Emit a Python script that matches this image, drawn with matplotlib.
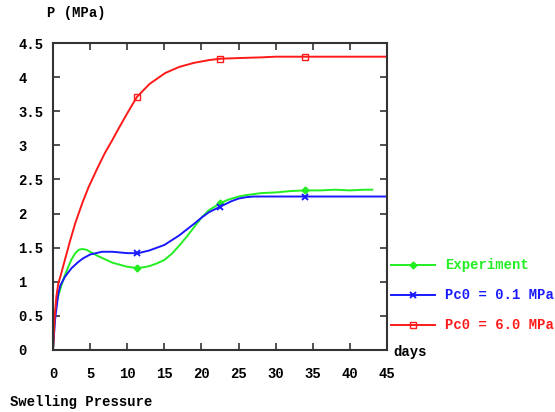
import numpy as np
import matplotlib.pyplot as plt

plt.rcParams['font.family'] = ['Liberation Mono', 'DejaVu Sans Mono']
plt.rcParams['font.weight'] = 'bold'

# curves (days, MPa)
exp_days = [0, 0.27, 0.6, 0.94, 1.5, 2.06, 2.5, 3.0, 3.5, 3.9, 4.5, 5.0, 6.0, 6.6, 7.0, 8.0, 9.0, 10.0, 11.5,
            13.0, 14.0, 15.0, 16.0, 17.0, 18.0, 19.0, 20.0, 21.0, 22.5, 23.5, 25.0, 26.0, 28.0,
            30.0, 32.0, 34.0, 36.0, 38.0, 40.0, 42.0, 43.0]
exp_p = [0, 0.54, 0.75, 0.88, 1.07, 1.22, 1.33, 1.42, 1.47, 1.48, 1.47, 1.44, 1.38, 1.35, 1.33, 1.28, 1.25, 1.22, 1.2,
         1.23, 1.27, 1.32, 1.41, 1.53, 1.66, 1.8, 1.94, 2.05, 2.15, 2.2, 2.25, 2.27, 2.3,
         2.31, 2.33, 2.34, 2.34, 2.35, 2.34, 2.35, 2.35]

pc01_days = [0, 0.27, 0.72, 1.0, 1.6, 2.0, 2.5, 3.4, 4.0, 5.0, 6.6, 8.0, 9.0, 10.0, 11.5,
             13.0, 15.0, 17.0, 19.0, 20.0, 21.0, 22.5, 24.0, 25.0, 26.0, 27.0, 30.0, 34.0, 40.0, 45.0]
pc01_p = [0, 0.44, 0.83, 0.95, 1.07, 1.13, 1.2, 1.29, 1.34, 1.4, 1.44, 1.44, 1.43, 1.42, 1.42,
          1.46, 1.54, 1.68, 1.85, 1.94, 2.02, 2.1, 2.18, 2.22, 2.24, 2.25, 2.25, 2.25, 2.25, 2.25]

pc60_days = [0, 0.2, 0.45, 0.72, 1.0, 2.3, 3.0, 4.0, 4.8, 6.0, 7.0, 8.0, 8.8, 10.0, 11.3,
             13.0, 15.1, 17.0, 19.0, 21.0, 22.5, 25.0, 28.0, 30.0, 34.0, 40.0, 45.0]
pc60_p = [0, 0.45, 0.78, 0.98, 1.08, 1.6, 1.86, 2.17, 2.39, 2.67, 2.89, 3.08, 3.24, 3.47, 3.71,
          3.9, 4.06, 4.15, 4.21, 4.25, 4.27, 4.28, 4.29, 4.3, 4.3, 4.3, 4.3]

mark_days = [11.3, 22.5, 34.0]
exp_mark = [1.2, 2.15, 2.34]
pc01_mark = [1.42, 2.1, 2.25]
pc60_mark = [3.71, 4.27, 4.3]

labels = ['Experiment', 'Pc0 = 0.1 MPa', 'Pc0 = 6.0 MPa']
colors = ['#22ee22', '#1a1aff', '#ff1a1a']

fig = plt.figure(figsize=(5.55, 4.12), dpi=100)
ax = fig.add_axes([0.0955, 0.1505, 0.602, 0.745])

ax.plot(exp_days, exp_p, color=colors[0], lw=1.4)
ax.plot(mark_days, exp_mark, 'D', color=colors[0], ms=3.5)
ax.plot(pc01_days, pc01_p, color=colors[1], lw=1.4)
ax.plot(mark_days, pc01_mark, 'x', color=colors[1], ms=5, mew=1.4)
ax.plot(pc60_days, pc60_p, color=colors[2], lw=1.4)
ax.plot(mark_days, pc60_mark, 's', color=colors[2], ms=5, mfc='none', mew=1.0)

ax.set_xlim(0, 45)
ax.set_ylim(0, 4.5)
ax.set_xticks(np.arange(0, 46, 5))
ax.set_yticks(np.arange(0, 4.6, 0.5))
ax.set_yticklabels(['0', '0.5', '1', '1.5', '2', '2.5', '3', '3.5', '4', '4.5'])
ax.tick_params(direction='in', length=5, width=1.2, top=True, right=True,
               labelsize=10, color='#333333')
ax.tick_params(axis='x', pad=12)
ax.tick_params(axis='y', pad=25)
for lab in ax.get_yticklabels():
    lab.set_horizontalalignment('left')
    lab.set_fontweight('bold')
for lab in ax.get_xticklabels():
    lab.set_fontweight('bold')
for s in ax.spines.values():
    s.set_linewidth(1.5)
    s.set_color('#333333')

# legend drawn outside right of the axes
leg_y = [265, 295, 325]
markers = ['D', 'x', 's']
for i in range(3):
    yf = 1 - leg_y[i] / 412
    fig.add_artist(plt.Line2D([391 / 555, 435 / 555], [yf, yf], color=colors[i], lw=1.4))
    if markers[i] == 's':
        fig.add_artist(plt.Line2D([413 / 555], [yf], marker='s', color=colors[i], ms=5, mfc='none', mew=1.0))
    elif markers[i] == 'x':
        fig.add_artist(plt.Line2D([413 / 555], [yf], marker='x', color=colors[i], ms=5, mew=1.4))
    else:
        fig.add_artist(plt.Line2D([413 / 555], [yf], marker='D', color=colors[i], ms=3.5))
    fig.text(445 / 555, yf, labels[i], color=colors[i], fontsize=10, fontweight='bold', va='center', ha='left')

fig.text(393 / 555, 1 - 352 / 412, 'days', fontsize=10, fontweight='bold', va='center', ha='left')
fig.text(47 / 555, 1 - 13 / 412, 'P (MPa)', fontsize=10, fontweight='bold', va='center', ha='left')
fig.text(10 / 555, 1 - 402 / 412, 'Swelling Pressure', fontsize=10, fontweight='bold', va='center', ha='left')

fig.savefig('out.png', dpi=100)
